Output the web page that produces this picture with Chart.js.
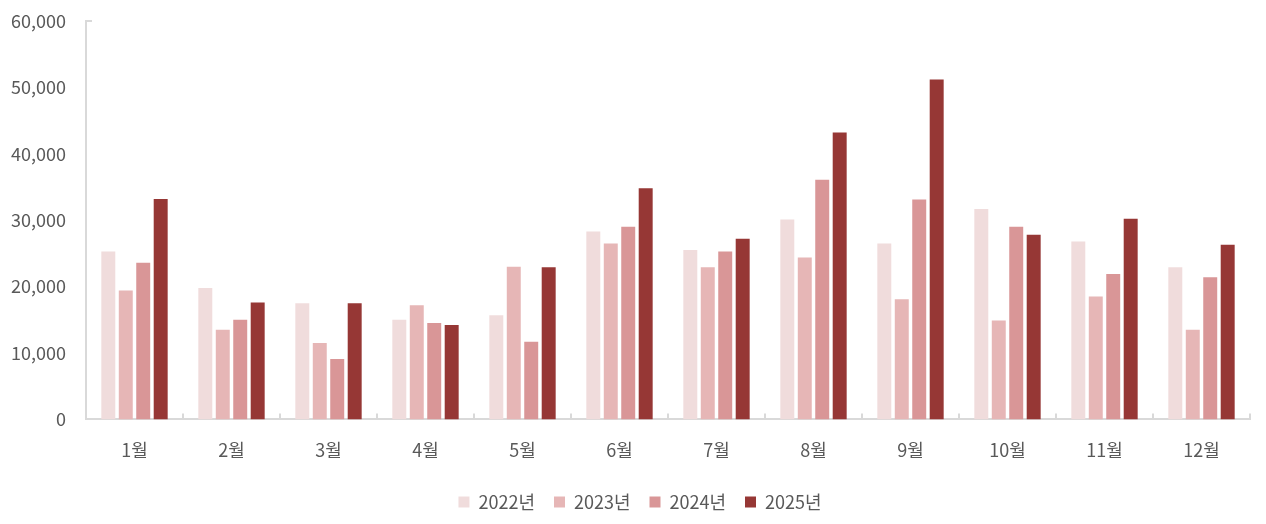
<!DOCTYPE html>
<html>
<head>
<meta charset="utf-8">
<script src="https://cdn.jsdelivr.net/npm/chart.js@4"></script>
<style>
html,body{margin:0;padding:0;background:#fff;}
#wrap{width:1266px;height:524px;position:relative;}
</style>
</head>
<body>
<div id="wrap"><canvas id="c"></canvas></div>
<script>
const categories = ['1월','2월','3월','4월','5월','6월','7월','8월','9월','10월','11월','12월'];
const seriesNames = ['2022년','2023년','2024년','2025년'];
const v2022 = [25300,19800,17500,15000,15700,28300,25500,30100,26500,31700,26800,22900];
const v2023 = [19400,13500,11500,17200,23000,26500,22900,24400,18100,14900,18500,13500];
const v2024 = [23600,15000,9100,14500,11700,29000,25300,36100,33100,29000,21900,21400];
const v2025 = [33200,17600,17500,14200,22900,34800,27200,43200,51200,27800,30200,26300];
const yTicks = [0,10000,20000,30000,40000,50000,60000];
const colors = ['#F0DCDC','#E6B6B6','#D99697','#963735'];

const FONT = "'Noto Sans CJK KR','Noto Sans',sans-serif";
const TXT = '#595959';
const AXIS = '#D9D9D9';

const innerTicks = {
  id:'innerTicks',
  afterLayout(chart){
    const lg = chart.legend;
    if(lg){ lg.top -= 7; lg.bottom -= 7; lg.left += 15; lg.right += 15; }
  },
  afterDatasetsDraw(chart){
    const x = chart.scales.x, y = chart.scales.y, ctx = chart.ctx;
    ctx.save();
    ctx.strokeStyle = AXIS; ctx.lineWidth = 2;
    const b = y.getPixelForValue(0);
    const step = x.getPixelForValue(1)-x.getPixelForValue(0);
    ctx.beginPath();
    for(let i=1;i<=categories.length;i++){
      const px = i < categories.length ? x.getPixelForValue(i) - step/2 : x.right;
      ctx.moveTo(Math.round(px), b);
      ctx.lineTo(Math.round(px), b-6);
    }
    const t = y.getPixelForValue(yTicks[yTicks.length-1]);
    ctx.moveTo(x.left, t); ctx.lineTo(x.left+6, t);
    ctx.stroke();
    ctx.restore();
  }
};

new Chart(document.getElementById('c'), {
  type:'bar',
  data:{
    labels:categories,
    datasets:[v2022,v2023,v2024,v2025].map((d,i)=>({
      label:seriesNames[i], data:d, backgroundColor:colors[i], borderWidth:0,
      categoryPercentage:0.72, barPercentage:0.8
    }))
  },
  options:{
    responsive:true, maintainAspectRatio:false, animation:false,
    layout:{padding:{top:21,right:16,left:0,bottom:-4}},
    plugins:{
      tooltip:{enabled:false},
      legend:{
        position:'bottom',
        labels:{boxWidth:11,boxHeight:11,color:TXT,padding:19,font:{family:FONT,size:18}}
      }
    },
    scales:{
      x:{
        grid:{display:false,drawTicks:false},
        border:{color:AXIS,width:2},
        ticks:{color:TXT,padding:20,font:{family:FONT,size:18}}
      },
      y:{
        min:0,max:60000,
        afterFit(s){ s.width = 86; s.paddingTop = 0; s.paddingBottom = 0; },
        afterBuildTicks(s){ s.ticks = yTicks.map(v=>({value:v})); },
        grid:{display:false,drawTicks:false},
        border:{color:AXIS,width:2},
        ticks:{color:TXT,padding:20,font:{family:FONT,size:18},
          callback:(v)=>v.toLocaleString('en-US')}
      }
    }
  },
  plugins:[innerTicks]
});
</script>
</body>
</html>
